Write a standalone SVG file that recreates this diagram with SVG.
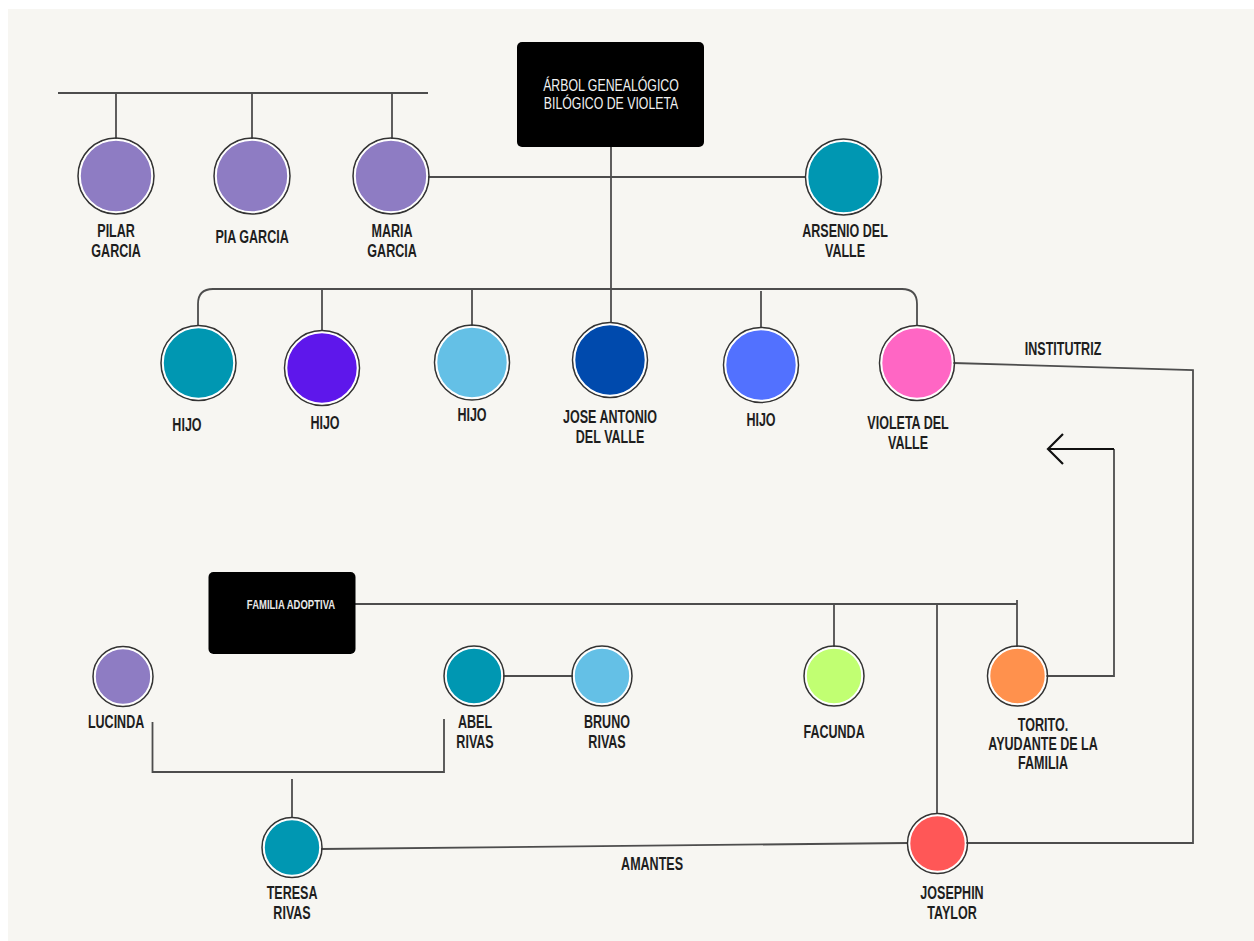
<svg xmlns="http://www.w3.org/2000/svg" width="1254" height="941" viewBox="0 0 1254 941">
<style>
.bg{fill:#f7f6f2}
.ln{fill:none;stroke:#4d4d4d;stroke-width:1.8}
.arr{fill:none;stroke:#111;stroke-width:2.2}
.ring{fill:none;stroke:#333;stroke-width:1.5}
.dot{stroke:#fff;stroke-width:1.6}
.box{fill:#000}
.lbl{font-family:"Liberation Sans",Arial,sans-serif;font-weight:bold;font-size:19px;fill:#1e1e1e;text-anchor:middle;transform-box:fill-box;transform-origin:50% 50%;transform:scaleX(0.66)}
.ttl{font-family:"Liberation Sans",Arial,sans-serif;font-size:16px;fill:#f2f2f2;text-anchor:middle;transform-box:fill-box;transform-origin:50% 50%;transform:scaleX(0.77)}
.sm{font-family:"Liberation Sans",Arial,sans-serif;font-weight:bold;font-size:12.5px;fill:#e8e8e8;text-anchor:middle;transform-box:fill-box;transform-origin:50% 50%;transform:scaleX(0.76)}
</style>
<rect x="0" y="0" width="1254" height="941" fill="#ffffff"/>
<rect class="bg" x="8" y="9" width="1246" height="932"/>

<g id="connectors">
  <path class="ln" d="M58,93 H428"/>
  <path class="ln" d="M116,93 V139"/>
  <path class="ln" d="M252,93 V139"/>
  <path class="ln" d="M392,93 V139"/>
  <path class="ln" d="M428,177 H806"/>
  <path class="ln" d="M611,147 V323"/>
  <path class="ln" d="M198,326 V304 Q198,289 213,289 H902 Q917,289 917,304 V325"/>
  <path class="ln" d="M322,289 V331"/>
  <path class="ln" d="M472,289 V326"/>
  <path class="ln" d="M761,291 V328"/>
  <path class="ln" d="M953,363 L1193,370 V843 H966"/>
  <path class="ln" d="M355,604 H1017"/>
  <path class="ln" d="M1017,600 V647"/>
  <path class="ln" d="M834,604 V647"/>
  <path class="ln" d="M937,605 V814"/>
  <path class="ln" d="M1046,676 H1114 V449"/>
  <path class="arr" d="M1114,449 H1048 M1063,434 L1048,449 L1063,464"/>
  <path class="ln" d="M503,676 H573"/>
  <path class="ln" d="M152.5,722 V772 H444 V719"/>
  <path class="ln" d="M292,779 V818"/>
  <path class="ln" d="M321,849 L908,843"/>
</g>

<g id="title">
  <rect class="box" x="517" y="42" width="187" height="105" rx="5"/>
  <text class="ttl" x="611" y="91">ÁRBOL GENEALÓGICO</text>
  <text class="ttl" x="611" y="109">BILÓGICO DE VIOLETA</text>
</g>

<g id="familia-adoptiva">
  <rect class="box" x="208.5" y="572" width="147" height="82" rx="5"/>
  <text class="sm" x="291" y="609">FAMILIA ADOPTIVA</text>
</g>

<g id="pilar">
  <circle class="ring" cx="116" cy="176" r="38"/>
  <circle class="dot" cx="116" cy="176" r="36" fill="#8e7cc3"/>
  <text class="lbl" x="116" y="237">PILAR</text>
  <text class="lbl" x="116" y="257">GARCIA</text>
</g>
<g id="pia">
  <circle class="ring" cx="252" cy="176" r="38"/>
  <circle class="dot" cx="252" cy="176" r="36" fill="#8e7cc3"/>
  <text class="lbl" x="252" y="243">PIA GARCIA</text>
</g>
<g id="maria">
  <circle class="ring" cx="391" cy="176" r="38"/>
  <circle class="dot" cx="391" cy="176" r="36" fill="#8e7cc3"/>
  <text class="lbl" x="392" y="237">MARIA</text>
  <text class="lbl" x="392" y="257">GARCIA</text>
</g>
<g id="arsenio">
  <circle class="ring" cx="843.5" cy="177" r="38"/>
  <circle class="dot" cx="843.5" cy="177" r="36" fill="#0097b2"/>
  <text class="lbl" x="845" y="237">ARSENIO DEL</text>
  <text class="lbl" x="845" y="257">VALLE</text>
</g>

<g id="hijo1">
  <circle class="ring" cx="198.5" cy="363" r="37.5"/>
  <circle class="dot" cx="198.5" cy="363" r="35.5" fill="#0097b2"/>
  <text class="lbl" x="187" y="431">HIJO</text>
</g>
<g id="hijo2">
  <circle class="ring" cx="322" cy="368" r="37.5"/>
  <circle class="dot" cx="322" cy="368" r="35.5" fill="#5e17eb"/>
  <text class="lbl" x="325" y="429">HIJO</text>
</g>
<g id="hijo3">
  <circle class="ring" cx="472" cy="362.5" r="37.5"/>
  <circle class="dot" cx="472" cy="362.5" r="35.5" fill="#64c0e6"/>
  <text class="lbl" x="472" y="421">HIJO</text>
</g>
<g id="jose-antonio">
  <circle class="ring" cx="610" cy="360" r="37.5"/>
  <circle class="dot" cx="610" cy="360" r="35.5" fill="#004aad"/>
  <text class="lbl" x="610" y="423">JOSE ANTONIO</text>
  <text class="lbl" x="610" y="443">DEL VALLE</text>
</g>
<g id="hijo4">
  <circle class="ring" cx="761" cy="365" r="37.5"/>
  <circle class="dot" cx="761" cy="365" r="35.5" fill="#5271ff"/>
  <text class="lbl" x="761" y="426">HIJO</text>
</g>
<g id="violeta">
  <circle class="ring" cx="917" cy="363" r="37.5"/>
  <circle class="dot" cx="917" cy="363" r="35.5" fill="#ff66c4"/>
  <text class="lbl" x="908" y="429">VIOLETA DEL</text>
  <text class="lbl" x="908" y="449">VALLE</text>
</g>

<g id="institutriz-label">
  <text class="lbl" x="1063" y="355">INSTITUTRIZ</text>
</g>

<g id="lucinda">
  <circle class="ring" cx="123" cy="676.5" r="30"/>
  <circle class="dot" cx="123" cy="676.5" r="28" fill="#8e7cc3"/>
  <text class="lbl" x="116" y="728">LUCINDA</text>
</g>
<g id="abel">
  <circle class="ring" cx="474" cy="676" r="30"/>
  <circle class="dot" cx="474" cy="676" r="28" fill="#0097b2"/>
  <text class="lbl" x="475" y="728">ABEL</text>
  <text class="lbl" x="475" y="748">RIVAS</text>
</g>
<g id="bruno">
  <circle class="ring" cx="602" cy="676" r="30"/>
  <circle class="dot" cx="602" cy="676" r="28" fill="#64c0e6"/>
  <text class="lbl" x="607" y="728">BRUNO</text>
  <text class="lbl" x="607" y="748">RIVAS</text>
</g>
<g id="facunda">
  <circle class="ring" cx="834" cy="676" r="30"/>
  <circle class="dot" cx="834" cy="676" r="28" fill="#c1ff72"/>
  <text class="lbl" x="834" y="738">FACUNDA</text>
</g>
<g id="torito">
  <circle class="ring" cx="1017.5" cy="676" r="30"/>
  <circle class="dot" cx="1017.5" cy="676" r="28" fill="#ff914d"/>
  <text class="lbl" x="1043" y="731">TORITO.</text>
  <text class="lbl" x="1043" y="750">AYUDANTE DE LA</text>
  <text class="lbl" x="1043" y="769">FAMILIA</text>
</g>
<g id="teresa">
  <circle class="ring" cx="292" cy="847.5" r="30"/>
  <circle class="dot" cx="292" cy="847.5" r="28" fill="#0097b2"/>
  <text class="lbl" x="292" y="899">TERESA</text>
  <text class="lbl" x="292" y="919">RIVAS</text>
</g>
<g id="josephin">
  <circle class="ring" cx="937.5" cy="843.5" r="30"/>
  <circle class="dot" cx="937.5" cy="843.5" r="28" fill="#ff5757"/>
  <text class="lbl" x="952" y="899">JOSEPHIN</text>
  <text class="lbl" x="952" y="919">TAYLOR</text>
</g>
<g id="amantes-label">
  <text class="lbl" x="652" y="870">AMANTES</text>
</g>
</svg>
